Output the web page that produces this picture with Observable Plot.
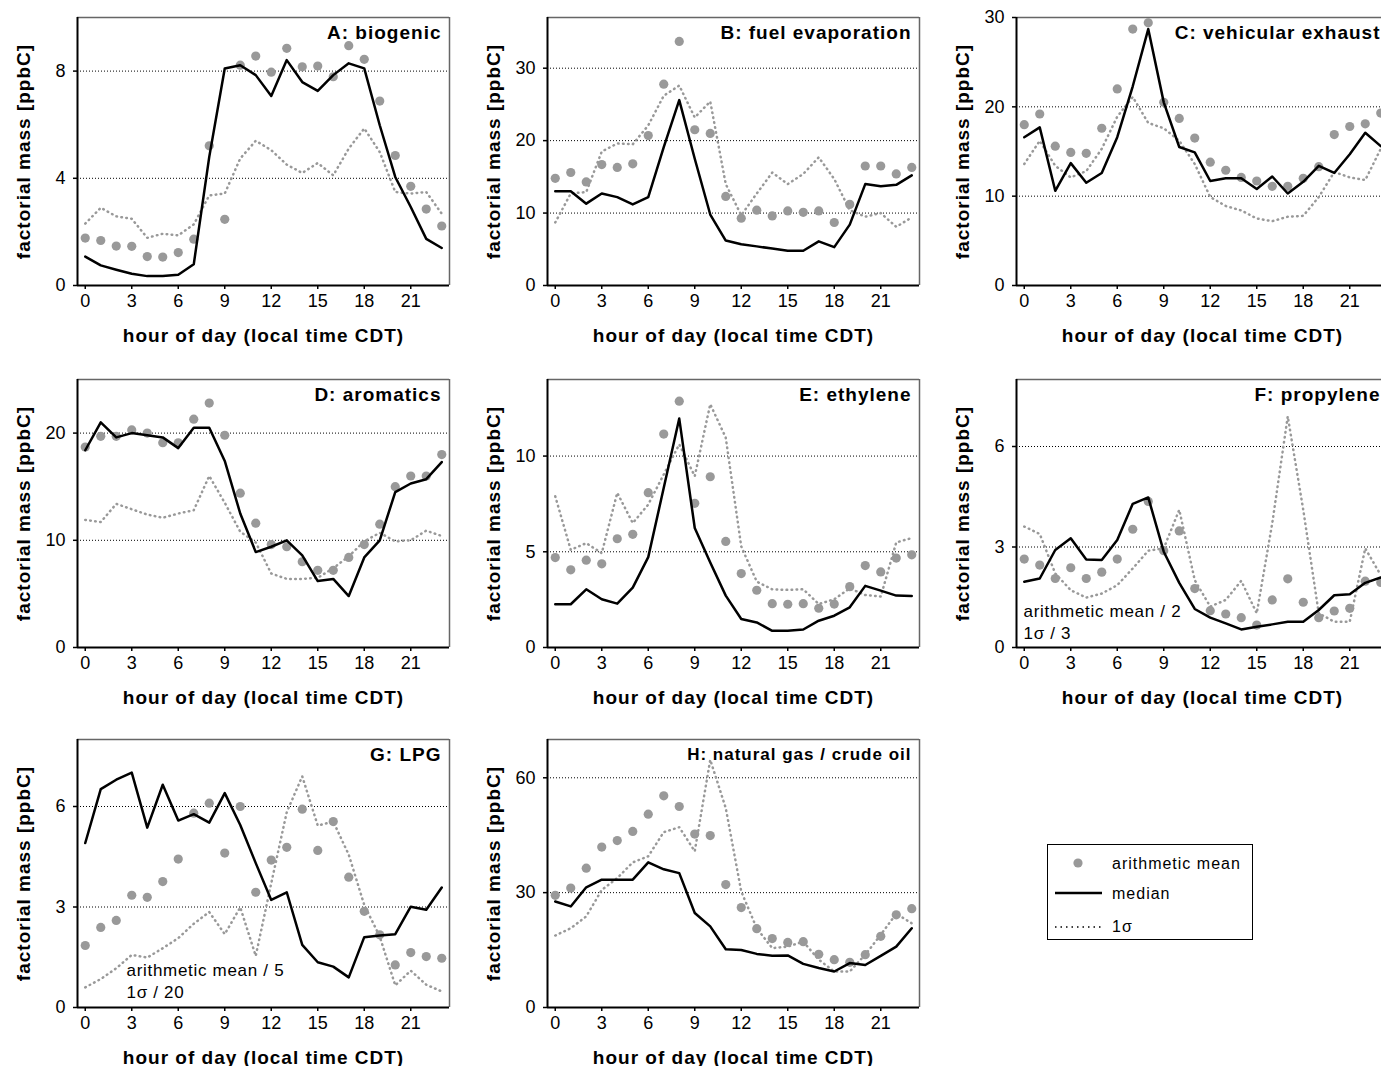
<!DOCTYPE html>
<html><head><meta charset="utf-8">
<script src="https://cdn.jsdelivr.net/npm/d3@7"></script>
<script src="https://cdn.jsdelivr.net/npm/@observablehq/plot@0.6"></script>
<style>
html,body{margin:0;padding:0;background:#fff;overflow:hidden;width:1381px;height:1066px}
#root{position:relative;width:1381px;height:1066px;overflow:hidden}
.panel{position:absolute;width:453px}
.panel svg{overflow:visible;max-width:none !important}
#legend{position:absolute;left:1047px;top:844px}
</style></head><body><div id="root"></div>
<script>
const hours = [0,1,2,3,4,5,6,7,8,9,10,11,12,13,14,15,16,17,18,19,20,21,22,23];
const xTicks = [0,3,6,9,12,15,18,21];
const xLabel = "hour of day (local time CDT)";
const yLabel = "factorial mass [ppbC]";

// A: biogenic
const meanA   = [1.77,1.68,1.47,1.46,1.08,1.06,1.23,1.73,5.21,2.47,8.22,8.56,7.96,8.85,8.16,8.19,7.79,8.95,8.44,6.88,4.85,3.70,2.85,2.22];
const medianA = [1.08,0.75,0.59,0.44,0.35,0.35,0.40,0.79,4.80,8.10,8.22,7.85,7.07,8.41,7.59,7.26,7.85,8.29,8.10,5.98,4.05,2.93,1.74,1.40];
const sigmaA  = [2.31,2.90,2.58,2.49,1.78,1.93,1.87,2.28,3.36,3.43,4.74,5.40,5.05,4.51,4.20,4.57,4.11,5.11,5.86,4.98,3.49,3.43,3.49,2.68];
// B: fuel evaporation
const meanB   = [14.8,15.6,14.3,16.7,16.3,16.8,20.7,27.8,33.7,21.5,21.0,12.3,9.3,10.4,9.6,10.3,10.1,10.3,8.7,11.2,16.5,16.5,15.4,16.3];
const medianB = [13.0,13.0,11.3,12.7,12.2,11.2,12.2,19.1,25.6,17.5,9.8,6.2,5.7,5.4,5.1,4.8,4.8,6.1,5.3,8.4,14.0,13.7,13.9,15.2];
const sigmaB  = [8.7,12.7,12.9,18.5,19.6,19.5,22.1,26.2,27.6,23.2,25.4,14.0,9.7,12.7,15.6,14.0,15.4,17.7,14.7,10.4,9.5,10.0,8.1,9.4];
// C: vehicular exhaust
const meanC   = [18.0,19.2,15.6,14.9,14.8,17.6,22.0,28.7,29.4,20.5,18.7,16.5,13.8,12.9,12.1,11.7,11.1,11.1,12.0,13.3,16.9,17.8,18.1,19.3];
const medianC = [16.6,17.7,10.6,13.7,11.5,12.6,16.6,22.3,28.7,20.5,15.5,14.9,11.7,12.0,12.0,10.8,12.2,10.3,11.6,13.4,12.6,14.7,17.1,15.6];
const sigmaC  = [13.6,16.2,13.4,12.1,12.8,15.3,18.9,21.1,18.2,17.6,16.2,13.6,9.9,8.9,8.4,7.5,7.2,7.7,7.8,9.9,12.7,12.1,11.8,15.3];
// D: aromatics
const meanD   = [18.7,19.7,19.7,20.3,20.0,19.1,19.1,21.3,22.8,19.8,14.4,11.6,9.6,9.4,8.0,7.2,7.2,8.4,9.6,11.5,15.0,16.0,16.0,18.0];
const medianD = [18.4,21.0,19.6,20.0,19.8,19.6,18.6,20.5,20.5,17.4,12.5,8.9,9.4,10.0,8.6,6.2,6.4,4.8,8.4,10.0,14.5,15.3,15.7,17.3];
const sigmaD  = [11.9,11.7,13.4,12.9,12.4,12.1,12.5,12.8,16.0,13.5,10.8,9.8,6.9,6.4,6.4,6.5,7.4,8.5,9.9,10.7,9.9,10.0,10.9,10.4];
// E: ethylene
const meanE   = [4.70,4.06,4.56,4.37,5.68,5.91,8.09,11.15,12.87,7.53,8.92,5.54,3.86,2.99,2.29,2.26,2.29,2.05,2.27,3.18,4.28,3.95,4.67,4.84];
const medianE = [2.26,2.26,3.04,2.52,2.29,3.13,4.72,8.34,11.96,6.24,4.44,2.71,1.49,1.31,0.87,0.87,0.94,1.40,1.66,2.10,3.22,2.97,2.71,2.69];
const sigmaE  = [7.90,5.10,5.45,4.93,8.08,6.50,7.47,9.04,10.61,8.95,12.71,10.96,5.28,3.44,3.04,3.01,3.04,2.27,2.52,3.09,2.74,2.66,5.49,5.72];
// F: propylene
const meanF   = [2.64,2.46,2.06,2.38,2.06,2.25,2.64,3.53,4.36,2.89,3.48,1.76,1.10,1.00,0.89,0.67,1.42,2.05,1.35,0.89,1.09,1.17,1.98,1.94];
const medianF = [1.96,2.06,2.91,3.26,2.63,2.61,3.21,4.29,4.48,2.86,1.93,1.15,0.89,0.72,0.54,0.62,0.69,0.77,0.77,1.12,1.56,1.59,1.93,2.09];
const sigmaF  = [3.61,3.39,2.21,1.71,1.49,1.61,1.86,2.36,2.89,2.96,4.11,2.01,1.22,1.42,1.99,1.02,3.71,6.90,4.11,1.02,0.77,0.77,2.96,2.16];
// G: LPG
const meanG   = [1.85,2.39,2.60,3.35,3.29,3.76,4.43,5.80,6.10,4.61,6.00,3.44,4.40,4.78,5.92,4.69,5.55,3.89,2.87,2.17,1.27,1.64,1.52,1.47];
const medianG = [4.91,6.52,6.80,7.01,5.37,6.65,5.58,5.77,5.52,6.40,5.45,4.31,3.21,3.44,1.87,1.35,1.22,0.90,2.10,2.15,2.19,3.01,2.92,3.58];
const sigmaG  = [0.60,0.85,1.17,1.57,1.49,1.77,2.07,2.50,2.85,2.19,2.99,1.54,3.71,5.83,6.90,5.43,5.55,4.56,3.06,2.12,0.66,1.10,0.68,0.48];
// H: natural gas / crude oil
const meanH   = [29.3,31.2,36.4,41.9,43.6,46.0,50.5,55.3,52.5,45.3,44.9,32.1,26.1,20.6,18.0,17.0,17.2,13.9,12.5,11.8,13.8,18.6,24.2,25.8];
const medianH = [27.7,26.4,31.4,33.4,33.4,33.4,37.9,36.1,35.1,24.7,21.2,15.2,15.0,14.0,13.5,13.6,11.4,10.3,9.4,11.6,11.1,13.5,15.9,20.7];
const sigmaH  = [18.8,20.7,23.8,30.7,33.8,37.9,39.5,45.8,47.1,40.8,64.7,52.1,30.3,20.7,15.5,15.9,17.2,12.5,9.4,9.4,13.8,19.0,24.5,22.0];

const titles = ["A: biogenic","B: fuel evaporation","C: vehicular exhaust","D: aromatics","E: ethylene","F: propylene","G: LPG","H: natural gas / crude oil"];
const yMax   = [10, 37, 30, 25, 14, 8, 8, 70];
const yTicks = [[0,4,8],[0,10,20,30],[0,10,20,30],[0,10,20],[0,5,10],[0,3,6],[0,3,6],[0,30,60]];
const notes  = {5: "arithmetic mean / 2\n1σ / 3", 6: "arithmetic mean / 5\n1σ / 20"};
const legendLabels = ["arithmetic mean","median","1σ"];

const means = [meanA,meanB,meanC,meanD,meanE,meanF,meanG,meanH];
const medians = [medianA,medianB,medianC,medianD,medianE,medianF,medianG,medianH];
const sigmas = [sigmaA,sigmaB,sigmaC,sigmaD,sigmaE,sigmaF,sigmaG,sigmaH];

const ML=75, MR=6, MT=6, MB=62, FW=372, FH=268;
const colLeft = [77, 547, 1016];
const rowTop = [17, 379, 739];
const FONT = '"Liberation Sans", Arial, Helvetica, sans-serif';
const root = document.getElementById("root");

titles.forEach((title, k) => {
  const rows = hours.map((h, i) => ({h, mean: means[k][i], median: medians[k][i], sigma: sigmas[k][i]}));
  const ymax = yMax[k];
  const marks = [
    Plot.ruleY(yTicks[k].filter(d => d > 0 && d < ymax), {stroke: "black", strokeWidth: 1, strokeDasharray: "1,2"}),
    Plot.line(rows, {x: "h", y: "sigma", stroke: "#999", strokeWidth: 2.5, strokeDasharray: "0.6,4.4", strokeLinecap: "round"}),
    Plot.dot(rows, {x: "h", y: "mean", r: 4.6, fill: "#999", stroke: "none"}),
    Plot.line(rows, {x: "h", y: "median", stroke: "black", strokeWidth: 2.5}),
    Plot.ruleY([ymax], {stroke: "#666", strokeWidth: 1.5}),
    Plot.ruleX([23.5], {stroke: "#666", strokeWidth: 1.5}),
    Plot.ruleX([-0.5], {stroke: "black", strokeWidth: 2}),
    Plot.ruleY([0], {stroke: "black", strokeWidth: 2}),
    Plot.axisX({ticks: xTicks, tickSize: 4, tickPadding: 5, label: null, fontSize: 18, strokeWidth: 1.5}),
    Plot.axisY({ticks: yTicks[k], tickSize: 4, tickPadding: 8, label: null, fontSize: 18, strokeWidth: 1.5}),
    Plot.text([title], {frameAnchor: "top-right", dx: -8, dy: 8, lineAnchor: "top", fontWeight: "bold", fontSize: k === 7 ? 17 : 19}),
    Plot.text([xLabel], {frameAnchor: "bottom", dy: 50, lineAnchor: "middle", fontWeight: "bold", fontSize: 19}),
    Plot.text([yLabel], {frameAnchor: "left", dx: -54, rotate: -90, textAnchor: "middle", lineAnchor: "middle", fontWeight: "bold", fontSize: 19})
  ];
  if (notes[k]) {
    marks.push(Plot.text([notes[k]], {frameAnchor: "bottom-left", dx: k === 5 ? 7 : 49, dy: k === 5 ? -9 : -10, lineAnchor: "bottom", textAnchor: "start", fontSize: 17, lineHeight: k === 5 ? 1.29 : 1.24}));
  }
  const plot = Plot.plot({
    width: FW + ML + MR, height: FH + MT + MB,
    marginLeft: ML, marginRight: MR, marginTop: MT, marginBottom: MB,
    style: {fontFamily: FONT, fontSize: "18px", background: "transparent", overflow: "visible", color: "black", maxWidth: "none"},
    x: {domain: [-0.5, 23.5]},
    y: {domain: [0, ymax]},
    marks
  });
  d3.select(plot).selectAll('g[aria-label="text"] text').attr("letter-spacing", function() {
    return this.closest("g").getAttribute("font-weight") === "bold" ? "1px" : "0.7px";
  });
  const div = document.createElement("div");
  div.className = "panel";
  div.style.left = (colLeft[k % 3] - ML) + "px";
  div.style.top = (rowTop[Math.floor(k / 3)] - MT) + "px";
  div.appendChild(plot);
  root.appendChild(div);
});

// legend
const lg = d3.select(root).append("svg").attr("id", "legend").attr("width", 206).attr("height", 96)
  .style("font-family", FONT).style("font-size", "16px");
lg.append("rect").attr("x", 0.5).attr("y", 0.5).attr("width", 205).attr("height", 95).attr("fill", "white").attr("stroke", "black").attr("stroke-width", 1);
lg.append("circle").attr("cx", 31).attr("cy", 19).attr("r", 4.6).attr("fill", "#999");
lg.append("line").attr("x1", 8).attr("x2", 55).attr("y1", 49).attr("y2", 49).attr("stroke", "black").attr("stroke-width", 2.5);
lg.append("line").attr("x1", 8).attr("x2", 55).attr("y1", 83).attr("y2", 83).attr("stroke", "black").attr("stroke-width", 1.5).attr("stroke-dasharray", "1.5,4");
legendLabels.forEach((t, i) => {
  lg.append("text").attr("x", 65).attr("y", [25, 55, 88][i]).attr("letter-spacing", "1px").text(t);
});
</script></body></html>
